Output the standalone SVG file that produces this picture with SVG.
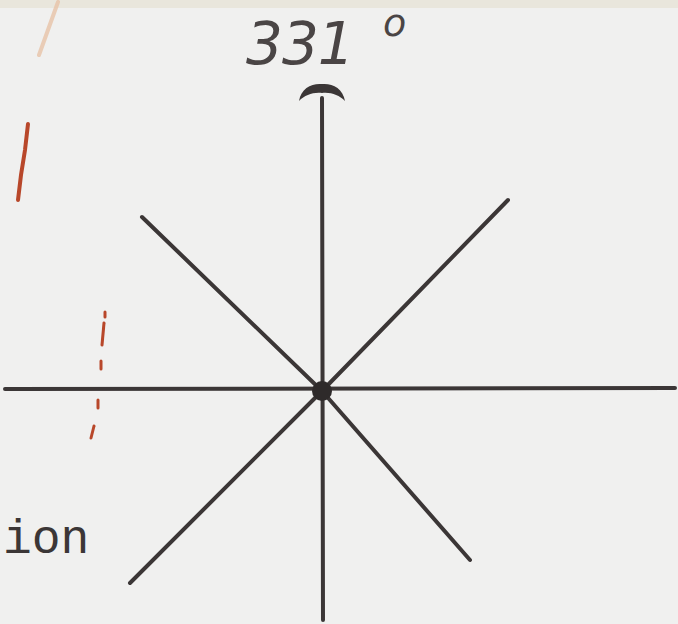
<svg xmlns="http://www.w3.org/2000/svg" width="678" height="624" viewBox="0 0 678 624">
<style>
.ln{stroke:#3b3636;stroke-width:4;stroke-linecap:round;stroke-linejoin:round;fill:none}
.red{stroke:#b8472a;stroke-linecap:round;fill:none}
.hand{font-family:"DejaVu Sans",sans-serif;font-style:italic;font-weight:200;fill:#4a4545}
.mono{font-family:"Liberation Mono","Courier New",monospace;fill:#3b3636}
</style>
<rect width="678" height="624" fill="#f0f0ef"/>
<rect x="0" y="0" width="678" height="8" fill="#e9e6dc"/>
<g id="marks">
<path d="M58,2 L39,55" stroke-width="4" stroke="#e8c4a8" stroke-linecap="round" opacity="0.8"/>
<path class="red" d="M28,124 L25,150 L21,175 L18,200" stroke-width="4"/>
<path class="red" d="M105,312 L105,317" stroke-width="3"/>
<path class="red" d="M104,323 L102,345" stroke-width="3"/>
<path class="red" d="M101,361 L101,369" stroke-width="3"/>
<path class="red" d="M98,400 L98,408" stroke-width="3" stroke="#7a5550"/>
<path class="red" d="M94,426 L91,438" stroke-width="3" stroke="#8a4a3a"/>
</g>
<g id="connectors">
<line class="ln" x1="5" y1="389" x2="675" y2="388"/>
<line class="ln" x1="322" y1="98" x2="323" y2="620"/>
<polyline class="ln" points="142,217 322,391 470,560"/>
<polyline class="ln" points="508,200 322,391 130,583"/>
</g>
<g id="arrowhead">
<path d="M299,101 C301,88 312,83 322,84 C332,83 343,88 345,101 C339,95 331,92 322,93 C313,92 305,95 299,101 Z" fill="#3b3636"/>
</g>
<g id="center">
<circle cx="322" cy="391" r="10" fill="#2e2a2a"/>
</g>
<g id="labels">
<text class="hand" x="246" y="64" font-size="58" letter-spacing="-1">331</text>
<text class="hand" x="383" y="36" font-size="38">o</text>
<text class="mono" x="3" y="553" font-size="48">ion</text>
</g>
</svg>
